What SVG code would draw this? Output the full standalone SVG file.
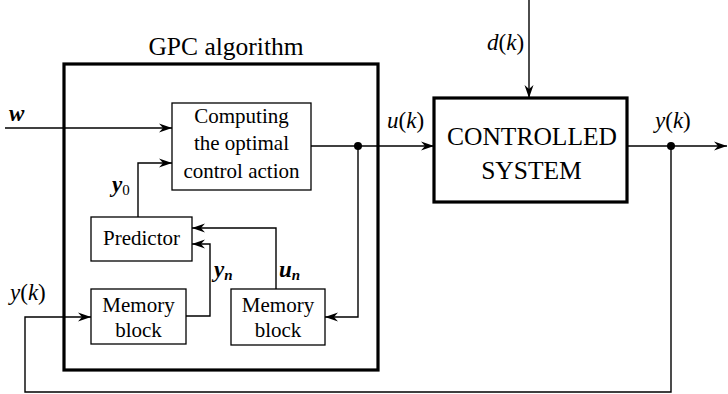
<svg xmlns="http://www.w3.org/2000/svg" width="728" height="394" viewBox="0 0 728 394">
<defs>
<marker id="arr" viewBox="-13 -5 13 10" refX="0" refY="0" markerWidth="13" markerHeight="10" orient="auto" markerUnits="userSpaceOnUse">
<path d="M0,0 L-13,-4.5 L-9,0 L-13,4.5 Z" fill="#000"/>
</marker>
</defs>
<style>
text{font-family:'Liberation Serif','DejaVu Serif',serif;fill:#000}
.box{fill:#fff;stroke:#000;stroke-width:1.3}
.thick{fill:none;stroke:#000;stroke-width:3.2}
.ln{fill:none;stroke:#000;stroke-width:1.4}
.i{font-style:italic}
.bi{font-style:italic;font-weight:bold}
</style>
<rect width="728" height="394" fill="#fff"/>
<g id="gpc">
<rect class="thick" x="64" y="64" width="314" height="306"/>
<text x="226" y="55" font-size="25.5" text-anchor="middle">GPC algorithm</text>
</g>
<g id="computing">
<rect class="box" x="172" y="103" width="139" height="87"/>
<text x="241.5" y="123" font-size="21" text-anchor="middle">Computing</text>
<text x="241.5" y="150" font-size="21" text-anchor="middle">the optimal</text>
<text x="241.5" y="178" font-size="21" text-anchor="middle">control action</text>
</g>
<g id="predictor">
<rect class="box" x="91" y="217" width="101" height="44" stroke="#888"/>
<text x="141.5" y="245" font-size="21" text-anchor="middle">Predictor</text>
</g>
<g id="memory1">
<rect class="box" x="91" y="289" width="95" height="55"/>
<text x="138.5" y="312" font-size="21" text-anchor="middle">Memory</text>
<text x="138.5" y="337" font-size="21" text-anchor="middle">block</text>
</g>
<g id="memory2">
<rect class="box" x="231" y="289" width="94" height="56"/>
<text x="278" y="312" font-size="21" text-anchor="middle">Memory</text>
<text x="278" y="337" font-size="21" text-anchor="middle">block</text>
</g>
<g id="controlled">
<rect class="thick" x="434" y="98" width="193" height="104"/>
<text x="532" y="145" font-size="25.5" text-anchor="middle">CONTROLLED</text>
<text x="531.5" y="179" font-size="25.5" text-anchor="middle">SYSTEM</text>
</g>
<g id="connectors">
<path class="ln" d="M5,128 H172" marker-end="url(#arr)"/>
<path class="ln" d="M138,217 V163 H172" marker-end="url(#arr)"/>
<path class="ln" d="M311,146 H434" marker-end="url(#arr)"/>
<path class="ln" d="M358,146 V317 H325" marker-end="url(#arr)"/>
<path class="ln" d="M186,316 H210 V244 H192" marker-end="url(#arr)"/>
<path class="ln" d="M276,289 V228 H192" marker-end="url(#arr)"/>
<path class="ln" d="M529,0 V98" marker-end="url(#arr)"/>
<path class="ln" d="M627,146 H727" marker-end="url(#arr)"/>
<path class="ln" d="M671,146 V392 H25 V317 H91" marker-end="url(#arr)"/>
<circle cx="358" cy="146" r="4" fill="#000"/>
<circle cx="671" cy="146" r="4" fill="#000"/>
</g>
<g id="labels">
<text class="bi" x="9" y="121" font-size="23">w</text>
<text x="112" y="192" font-size="23"><tspan class="bi">y</tspan><tspan font-size="15" dy="3">0</tspan></text>
<text x="214" y="277" font-size="23"><tspan class="bi">y</tspan><tspan class="bi" font-size="15" dy="3">n</tspan></text>
<text x="279" y="277" font-size="23"><tspan class="bi">u</tspan><tspan class="bi" font-size="15" dy="3">n</tspan></text>
<text x="10" y="300" font-size="23"><tspan class="i">y</tspan>(<tspan class="i">k</tspan>)</text>
<text x="387" y="128" font-size="23"><tspan class="i">u</tspan>(<tspan class="i">k</tspan>)</text>
<text x="655" y="128" font-size="23"><tspan class="i">y</tspan>(<tspan class="i">k</tspan>)</text>
<text x="487" y="50" font-size="23"><tspan class="i">d</tspan>(<tspan class="i">k</tspan>)</text>
</g>
</svg>
